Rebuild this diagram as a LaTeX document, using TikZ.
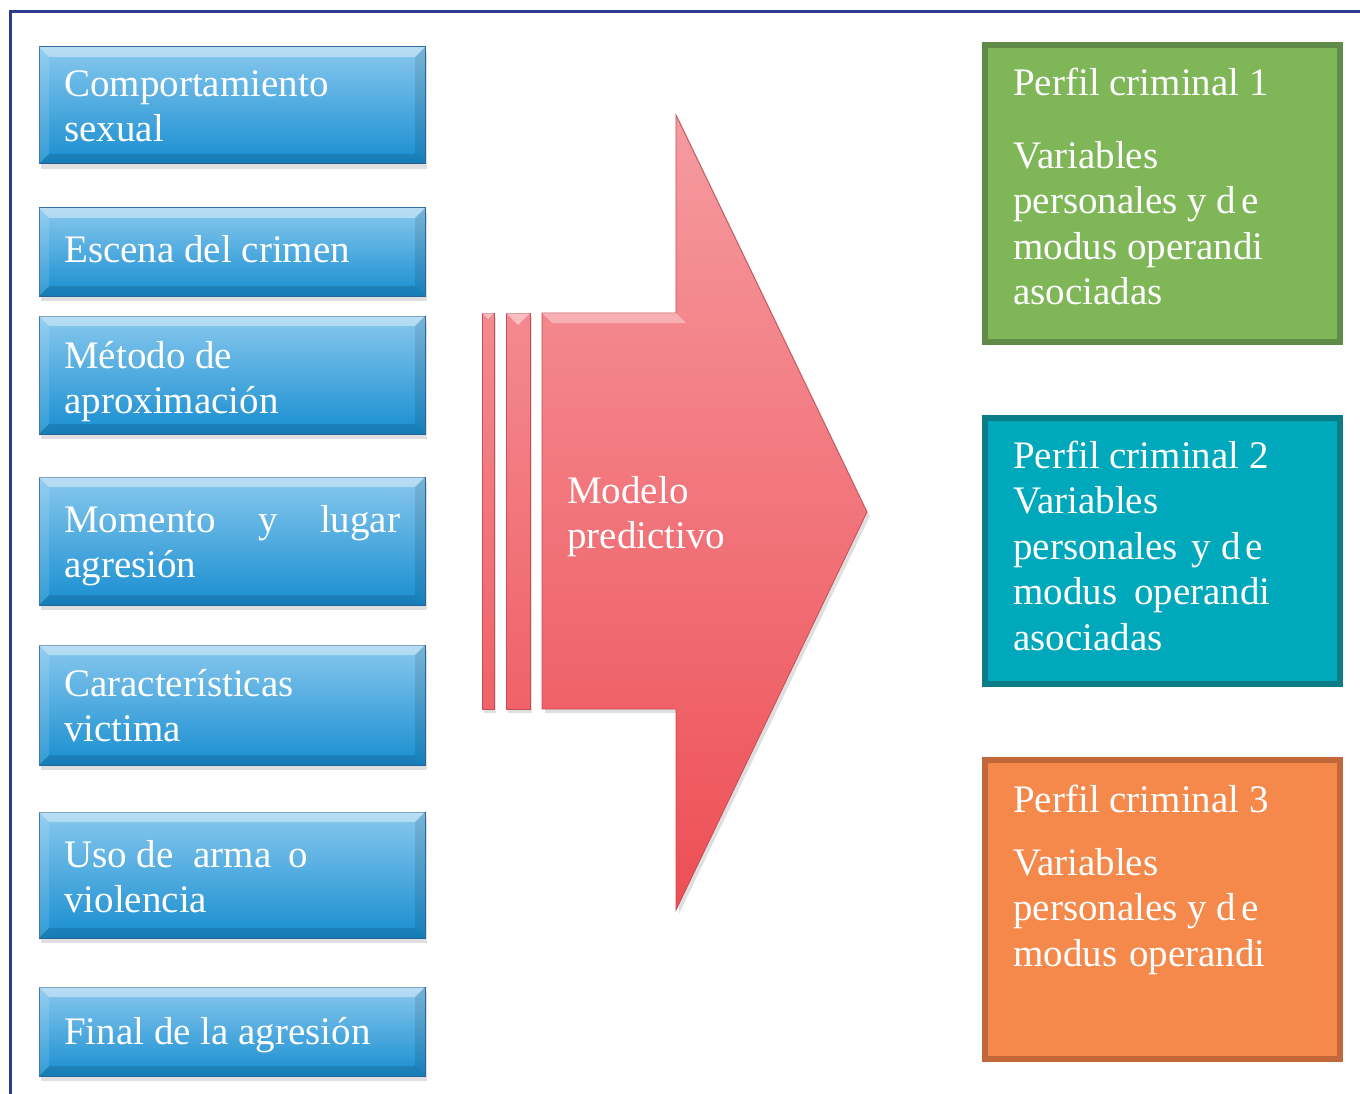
\documentclass[tikz,border=0pt]{standalone}
\usepackage{fontspec}
\setmainfont{Liberation Serif}
\usetikzlibrary{shadows}
\definecolor{blueT}{RGB}{136,200,238}
\definecolor{blueB}{RGB}{24,142,208}
\definecolor{blueD}{RGB}{40,104,160}
\definecolor{redT}{RGB}{245,155,160}
\definecolor{redB}{RGB}{238,78,85}
\definecolor{redD}{RGB}{196,78,86}
\definecolor{stripeT}{RGB}{243,138,143}
\definecolor{stripeB}{RGB}{240,98,104}
\definecolor{frameC}{RGB}{46,58,140}
\definecolor{greenF}{RGB}{127,182,88}
\definecolor{greenD}{RGB}{96,138,72}
\definecolor{tealF}{RGB}{0,168,188}
\definecolor{tealD}{RGB}{12,124,136}
\definecolor{orangeF}{RGB}{245,137,75}
\definecolor{orangeD}{RGB}{194,103,58}
\newcommand\bevelbox[1]{%
  \fill[white,opacity=.4] (#1.north west) -- (#1.north east) -- ([shift={(-10,10)}]#1.north east) -- ([shift={(10,10)}]#1.north west) -- cycle;
  \fill[white,opacity=.12] (#1.north west) -- ([shift={(10,10)}]#1.north west) -- ([shift={(10,-10)}]#1.south west) -- (#1.south west) -- cycle;
  \fill[black,opacity=.10] (#1.north east) -- ([shift={(-10,10)}]#1.north east) -- ([shift={(-10,-10)}]#1.south east) -- (#1.south east) -- cycle;
  \fill[black,opacity=.12] (#1.south west) -- (#1.south east) -- ([shift={(-10,-10)}]#1.south east) -- ([shift={(10,-10)}]#1.south west) -- cycle;
}
\begin{document}
\begin{tikzpicture}[x=1pt,y=-1pt,
  bluebox/.style={rectangle, anchor=north west, inner sep=0pt, outer sep=0pt, minimum width=386pt, minimum height=#1,
    top color=blueT, bottom color=blueB, draw=blueD, line width=1pt,
    drop shadow={opacity=.25, shadow xshift=2pt, shadow yshift=-5pt}},
  lbl/.style={anchor=north west, inner sep=0pt, align=left, text=white, font=\fontsize{39}{45.5}\selectfont},
  profbox/.style={rectangle, anchor=north west, inner sep=0pt, outer sep=0pt, minimum width=355pt, minimum height=#1, line width=6pt}]
\useasboundingbox (0,0) rectangle (1360,1094);
\fill[white] (0,0) rectangle (1360,1094);
% frame
\draw[frameC, line width=3pt] (1360,12) -- (10,12) -- (10,1094);
% blue boxes
\node[bluebox=117pt] (b1) at (39,47) {};
\node[bluebox=88pt]  (b2) at (39,208) {};
\node[bluebox=118pt] (b3) at (39,316) {};
\node[bluebox=128pt] (b4) at (39,477) {};
\node[bluebox=120pt] (b5) at (39,645) {};
\node[bluebox=126pt] (b6) at (39,812) {};
\node[bluebox=89pt]  (b7) at (39,987) {};
\bevelbox{b1}\bevelbox{b2}\bevelbox{b3}\bevelbox{b4}\bevelbox{b5}\bevelbox{b6}\bevelbox{b7}
\node[lbl] (t1) at (64,64.2) {\strut Comportamiento\\sexual};
\node[lbl] (t2) at (64,230.2) {\strut Escena del crimen};
\node[lbl] (t3) at (64,336.2) {\strut Método de\\aproximación};
\node[lbl] (t4) at (64,500.2) {\strut\makebox[336pt][l]{Momento\hfill y\hfill lugar}\\agresión};
\node[lbl] (t5) at (64,664.2) {\strut Características\\victima};
\node[lbl] (t6) at (64,835.2) {\strut Uso de\hspace{20pt}arma\hspace{17pt}o\\violencia};
\node[lbl] (t7) at (64,1012.2) {\strut Final de la agresión};
% arrow
\coordinate (a1) at (542,313);
\coordinate (a2) at (676,313);
\coordinate (a3) at (676,115);
\coordinate (a4) at (867,512);
\coordinate (a5) at (676,910);
\coordinate (a6) at (676,709);
\coordinate (a7) at (542,709);
\path[top color=stripeT, bottom color=stripeB, draw=redD, line width=.8pt,
  drop shadow={opacity=.25, shadow xshift=2pt, shadow yshift=-4pt}] (482,313) rectangle (494,709);
\path[top color=stripeT, bottom color=stripeB, draw=redD, line width=.8pt,
  drop shadow={opacity=.25, shadow xshift=2pt, shadow yshift=-4pt}] (506,313) rectangle (530,709);
\fill[white,opacity=.45] (482,313) -- (494,313) -- (488,319) -- cycle;
\fill[white,opacity=.45] (506,313) -- (530,313) -- (518,325) -- cycle;
\path[top color=redT, bottom color=redB, draw=redD, line width=.8pt,
  drop shadow={opacity=.25, shadow xshift=3pt, shadow yshift=-4pt}]
  (a1) -- (a2) -- (a3) -- (a4) -- (a5) -- (a6) -- (a7) -- cycle;
\fill[white,opacity=.35] (a1) -- (a2) -- ([shift={(10,10)}]a2) -- ([shift={(10,10)}]a1) -- cycle;
\node[lbl] (mp) at (567,471.2) {\strut Modelo\\predictivo};
% profiles
\node[profbox=297pt, fill=greenF, draw=greenD] (p1) at (985,45) {};
\node[profbox=266pt, fill=tealF, draw=tealD] (p2) at (985,418) {};
\node[profbox=299pt, fill=orangeF, draw=orangeD] (p3) at (985,760) {};
\node[lbl] (q1) at (1013,63.2) {\strut Perfil criminal 1\\[27.5pt]Variables\\personales y d\hspace{5pt}e\\modus\hspace{10pt}operandi\\asociadas};
\node[lbl] (q2) at (1013,436.2) {\strut Perfil criminal 2\\Variables\\personales\hspace{14pt}y d\hspace{5pt}e\\modus\hspace{17pt}operandi\\asociadas};
\node[lbl] (q3) at (1013,780.2) {\strut Perfil criminal 3\\[17.5pt]Variables\\personales y d\hspace{5pt}e\\modus\hspace{12pt}operandi};
\end{tikzpicture}
\end{document}
